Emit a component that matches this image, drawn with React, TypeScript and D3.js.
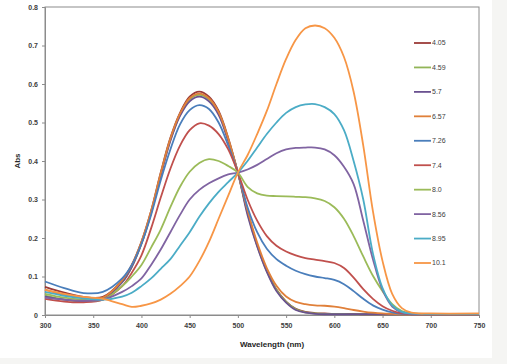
import React, { useEffect, useRef } from "react";
import * as d3 from "d3";

// wavelength grid (nm)
const wl = [300, 320, 340, 360, 380, 390, 400, 410, 420, 430, 440, 450, 460, 470, 480, 490, 500, 510, 520, 530, 540, 550, 560, 570, 580, 590, 600, 610, 620, 630, 640, 650, 660, 670, 680, 700, 750];

const seriesNames = ["4.05", "4.59", "5.7", "6.57", "7.26", "7.4", "8.0", "8.56", "8.95", "10.1"];
const seriesColors = ["#9B3B38", "#92B558", "#6A5190", "#E0803A", "#4A7EBB", "#C0504D", "#9BBB59", "#8064A2", "#4BACC6", "#F79646"];

const abs405 = [.073, .058, .047, .047, .09, .13, .19, .27, .37, .46, .525, .567, .58, .567, .53, .46, .37, .268, .182, .116, .066, .035, .016, .008, .005, .004, .003, .003, .003, .002, .002, .002, .002, .002, .002, .002, .002];
const abs459 = [.05, .04, .036, .042, .085, .125, .185, .265, .365, .455, .52, .56, .572, .56, .525, .455, .37, .265, .18, .114, .065, .034, .015, .007, .004, .003, .003, .003, .002, .002, .002, .002, .002, .002, .002, .002, .002];
const abs57 = [.048, .04, .036, .042, .085, .125, .185, .265, .362, .452, .517, .555, .567, .555, .52, .452, .37, .26, .178, .112, .062, .032, .013, .006, .003, .002, .002, .002, .002, .002, .002, .002, .002, .002, .002, .002, .002];
const abs657 = [.066, .052, .045, .045, .09, .13, .19, .27, .368, .458, .523, .563, .575, .563, .527, .458, .37, .272, .188, .122, .076, .048, .034, .028, .025, .024, .022, .018, .013, .009, .006, .004, .003, .002, .002, .002, .002];
const abs726 = [.087, .07, .057, .06, .095, .13, .185, .26, .35, .43, .495, .532, .545, .535, .5, .44, .37, .28, .215, .172, .145, .128, .115, .106, .1, .096, .091, .08, .062, .042, .025, .014, .007, .003, .002, .002, .002];
const abs74 = [.042, .035, .033, .04, .075, .11, .155, .225, .305, .38, .44, .48, .498, .492, .47, .43, .37, .3, .245, .205, .18, .165, .155, .148, .144, .14, .135, .122, .097, .067, .042, .023, .011, .004, .002, .002, .002];
const abs80 = [.055, .045, .04, .04, .075, .1, .13, .175, .222, .28, .333, .372, .395, .405, .4, .387, .37, .333, .316, .31, .309, .308, .307, .306, .303, .296, .28, .25, .205, .152, .102, .062, .028, .01, .004, .003, .003];
const abs856 = [.045, .04, .037, .04, .06, .075, .095, .13, .17, .215, .26, .3, .325, .342, .355, .365, .37, .378, .39, .405, .42, .43, .434, .435, .435, .43, .415, .385, .34, .245, .145, .065, .022, .007, .003, .003, .003];
const abs895 = [.06, .05, .043, .04, .048, .058, .075, .095, .12, .145, .18, .215, .255, .29, .32, .345, .37, .4, .435, .47, .5, .525, .54, .547, .548, .54, .522, .48, .4, .3, .16, .07, .025, .008, .004, .003, .003];
const abs101 = [.065, .055, .047, .042, .028, .021, .024, .03, .04, .055, .075, .1, .14, .19, .25, .31, .37, .415, .47, .53, .6, .665, .715, .745, .752, .745, .72, .67, .58, .44, .27, .14, .055, .018, .006, .004, .004];

const seriesValues = [abs405, abs459, abs57, abs657, abs726, abs74, abs80, abs856, abs895, abs101];

const xTicks = [300, 350, 400, 450, 500, 550, 600, 650, 700, 750];
const yTicks = [0, 0.1, 0.2, 0.3, 0.4, 0.5, 0.6, 0.7, 0.8];

const App: React.FC = () => {
  const svgRef = useRef<SVGSVGElement>(null);

  useEffect(() => {
    const svg = d3.select(svgRef.current).attr("width", 507).attr("height", 364);
    svg.selectAll("*").remove();

    // page background + white card
    svg.append("rect").attr("width", 507).attr("height", 364).attr("fill", "#f5f5f3");
    svg.append("rect").attr("width", 492).attr("height", 358).attr("fill", "#ffffff");

    const x = d3.scaleLinear().domain([300, 750]).range([45, 479]);
    const y = d3.scaleLinear().domain([0, 0.8]).range([315, 7]);

    // plot frame
    svg.append("rect")
      .attr("x", x(300)).attr("y", y(0.8))
      .attr("width", x(750) - x(300)).attr("height", y(0) - y(0.8))
      .attr("fill", "none").attr("stroke", "#8c8c8c").attr("stroke-width", 1);

    const fontFam = "'Liberation Sans', Arial, sans-serif";

    const yAxis = d3.axisLeft(y).tickValues(yTicks).tickSize(3).tickPadding(4)
      .tickFormat((d: d3.NumberValue) => (+d === 0 ? "0" : d3.format(".1f")(+d)));
    const gy = svg.append("g").attr("transform", `translate(${x(300)},0)`).call(yAxis);

    const xAxis = d3.axisBottom(x).tickValues(xTicks).tickSize(3).tickPadding(5).tickFormat(d3.format("d"));
    const gx = svg.append("g").attr("transform", `translate(0,${y(0)})`).call(xAxis);

    [gx, gy].forEach((g) => {
      g.select(".domain").attr("stroke", "#8c8c8c");
      g.selectAll(".tick line").attr("stroke", "#8c8c8c");
      g.selectAll(".tick text")
        .attr("fill", "#404040")
        .attr("font-size", "7px")
        .attr("font-weight", "bold")
        .attr("font-family", fontFam);
    });

    // curves, drawn in series order so later ones sit on top
    const line = d3.line<number>()
      .x((_, i) => x(wl[i]))
      .y((d) => y(d))
      .curve(d3.curveCatmullRom.alpha(0.5));

    seriesValues.forEach((vals, i) => {
      svg.append("path")
        .datum(vals)
        .attr("d", line)
        .attr("fill", "none")
        .attr("stroke", seriesColors[i])
        .attr("stroke-width", 1.8);
    });

    // legend
    const leg = d3.scalePoint<string>().domain(seriesNames).range([43, 263]);
    seriesNames.forEach((name, i) => {
      const ly = leg(name) ?? 0;
      svg.append("line")
        .attr("x1", 414).attr("x2", 431)
        .attr("y1", ly).attr("y2", ly)
        .attr("stroke", seriesColors[i]).attr("stroke-width", 1.8);
      svg.append("text")
        .text(name)
        .attr("x", 432).attr("y", ly)
        .attr("dy", "0.35em")
        .attr("font-size", "7px")
        .attr("font-family", fontFam)
        .attr("fill", "#404040");
    });

    // axis titles
    svg.append("text")
      .text("Abs")
      .attr("transform", `translate(20,161) rotate(-90)`)
      .attr("text-anchor", "middle")
      .attr("font-size", "8px")
      .attr("font-weight", "bold")
      .attr("font-family", fontFam)
      .attr("fill", "#262626");

    svg.append("text")
      .text("Wavelength (nm)")
      .attr("x", 272).attr("y", 347)
      .attr("text-anchor", "middle")
      .attr("font-size", "8px")
      .attr("font-weight", "bold")
      .attr("font-family", fontFam)
      .attr("fill", "#262626");
  });

  return (
    <div style={{ position: "fixed", left: 0, top: 0 }}>
      <svg ref={svgRef} style={{ display: "block" }}></svg>
    </div>
  );
};

export default App;
